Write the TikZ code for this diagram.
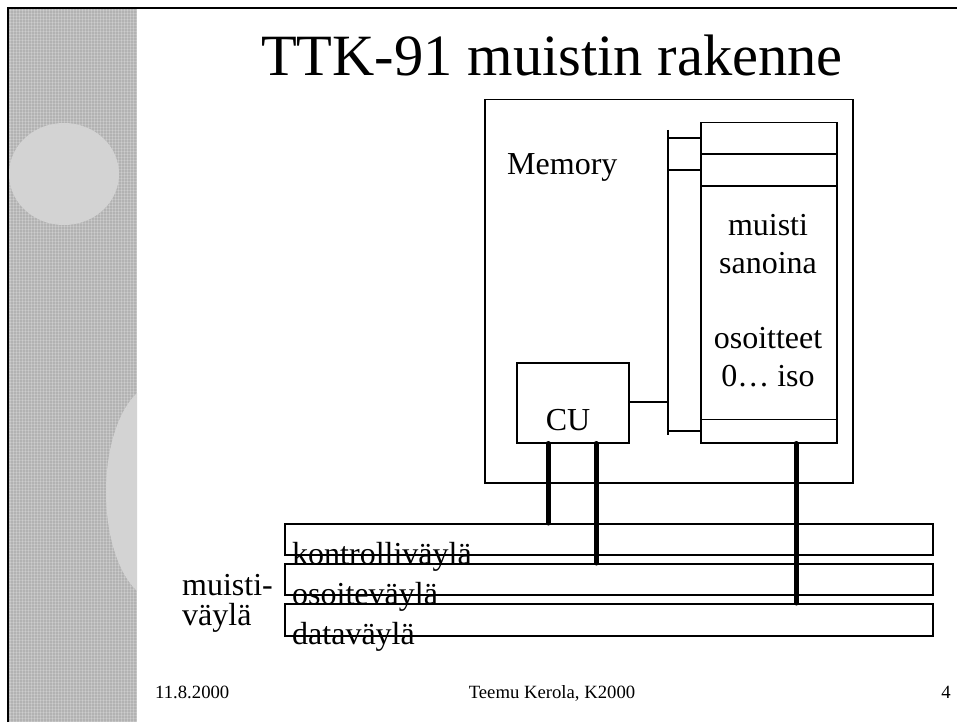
\documentclass[tikz,border=0pt]{standalone}
\usepackage{fontspec}
\setmainfont{Liberation Serif}
\usetikzlibrary{calc}
\definecolor{stripgray}{RGB}{178,178,178}
\definecolor{blob}{RGB}{211,211,211}
\begin{document}
\begin{tikzpicture}[x=1pt,y=-1pt,
  box/.style={draw,line width=1.5pt,inner sep=0pt,anchor=north west},
  wire/.style={line width=1.5pt},
  busline/.style={line width=5pt,line cap=round},
  txt/.style={inner sep=0pt,font=\fontsize{32}{38}\selectfont},
  foot/.style={inner sep=0pt,font=\fontsize{18.7}{22}\selectfont}]
\useasboundingbox (0,0) rectangle (957,722);
\fill[white] (0,0) rectangle (957,722);
% textured strip
\fill[stripgray] (9,9) rectangle (137,722);
\foreach \i in {0,...,42}{\draw[white,opacity=0.22,line width=0.9pt] (10+\i*3,9) -- (10+\i*3,722);}
\foreach \j in {0,...,237}{\draw[white,opacity=0.18,line width=0.9pt] (9,10+\j*3) -- (137,10+\j*3);}
\begin{scope}
  \clip (9,9) rectangle (137,722);
  \fill[blob] (64,174) ellipse [x radius=55, y radius=51];
  \fill[blob] (158,492) ellipse [x radius=52, y radius=108];
\end{scope}
\draw[line width=2pt] (8,722) -- (8,8) -- (957,8);
% title
\node[anchor=base,inner sep=0pt,font=\fontsize{58.5}{62}\selectfont] (title) at (552,76) {TTK-91 muistin rakenne};
% memory box
\node[box,minimum width=368pt,minimum height=383pt] (mem) at (484,99) {};
\node[txt,anchor=base west] (memlbl) at (507,175) {Memory};
% memory array
\node[box,minimum width=136pt,minimum height=320pt] (arr) at (700,122) {};
\draw[wire] ($(arr.north west)+(0,32)$) -- ($(arr.north east)+(0,32)$);
\draw[wire] ($(arr.north west)+(0,64)$) -- ($(arr.north east)+(0,64)$);
\draw[wire] ($(arr.south west)+(0,-24)$) -- ($(arr.south east)+(0,-24)$);
\node[txt,anchor=base] (t1) at (768,235) {muisti};
\node[txt,anchor=base] (t2) at (768,273) {sanoina};
\node[txt,anchor=base] (t3) at (768,348) {osoitteet};
\node[txt,anchor=base] (t4) at (768,386) {0… iso};
% CU
\node[box,minimum width=112pt,minimum height=80pt] (cu) at (516,362) {};
\node[txt,anchor=base] (culbl) at (568,430) {CU};
% internal bus
\coordinate (bt) at (668,130);
\coordinate (bb) at (668,435);
\draw[wire] (bt) -- (bb);
\draw[wire] (bt |- 0,138) -- (arr.west |- 0,138);
\draw[wire] (bt |- 0,170) -- (arr.west |- 0,170);
\draw[wire] (bt |- 0,431) -- (arr.west |- 0,431);
\draw[wire] (cu.east |- 0,402) -- (bt |- 0,402);
% buses
\node[box,minimum width=648pt,minimum height=31pt] (ctrl) at (284,523) {};
\node[box,minimum width=648pt,minimum height=31pt] (addr) at (284,563) {};
\node[box,minimum width=648pt,minimum height=32pt] (data) at (284,603) {};
\node[txt,anchor=base west] (l1) at (292,564) {kontrolliväylä};
\node[txt,anchor=base west] (l2) at (292,604) {osoiteväylä};
\node[txt,anchor=base west] (l3) at (292,644) {dataväylä};
\node[txt,anchor=base west] (m1) at (182,595) {muisti-};
\node[txt,anchor=base west] (m2) at (182,625) {väylä};
% thick connections
\coordinate (c1) at (548,0);
\coordinate (c2) at (596,0);
\coordinate (c3) at (796,0);
\draw[busline] (cu.south -| c1) -- (ctrl.north -| c1);
\draw[busline] (cu.south -| c2) -- (addr.north -| c2);
\draw[busline] (arr.south -| c3) -- (data.north -| c3);
% footer
\node[foot,anchor=base west] (date) at (155,698) {11.8.2000};
\node[foot,anchor=base] (author) at (552,698) {Teemu Kerola, K2000};
\node[foot,anchor=base east] (page) at (951,698) {4};
\end{tikzpicture}
\end{document}
